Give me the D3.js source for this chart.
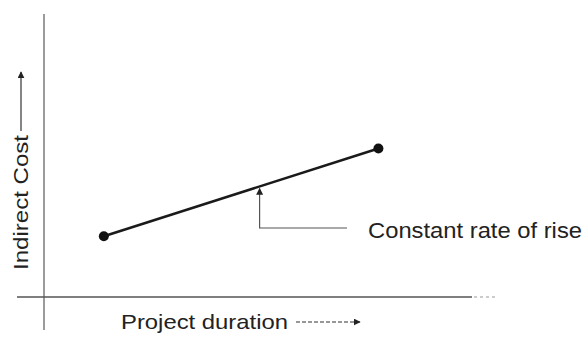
<!DOCTYPE html>
<html>
<head>
<meta charset="utf-8">
<script src="https://cdn.jsdelivr.net/npm/d3@7"></script>
<style>
  body { margin: 0; background: #fff; }
  text { font-family: "Liberation Sans", Arial, sans-serif; fill: #222; }
</style>
</head>
<body>
<script>
const width = 586, height = 337;

// indirect cost line: project duration vs cost (arbitrary units)
const durations = [1.36, 7.6];
const costs = [2.25, 5.5];
const annotationAt = 4.9;
const annotationLabel = 'Constant rate of rise';
const xLabel = 'Project duration';
const yLabel = 'Indirect Cost';

const x = d3.scaleLinear().domain([0, 10]).range([44, 484]);
const y = d3.scaleLinear().domain([0, 10]).range([297, 27]);

const svg = d3.select('body').append('svg').attr('width', width).attr('height', height);

const defs = svg.append('defs');
defs.append('marker')
    .attr('id', 'head')
    .attr('viewBox', '0 0 10 10')
    .attr('refX', 9).attr('refY', 5)
    .attr('markerWidth', 7).attr('markerHeight', 7)
    .attr('markerUnits', 'userSpaceOnUse')
    .attr('orient', 'auto')
    .append('path').attr('d', 'M0,0L10,5L0,10Z').attr('fill', '#222');

// axes
svg.append('line')
    .attr('x1', x(0)).attr('x2', x(0))
    .attr('y1', 14).attr('y2', 330)
    .attr('stroke', '#666').attr('stroke-width', 1.3);
svg.append('line')
    .attr('x1', 17).attr('x2', 472)
    .attr('y1', y(0)).attr('y2', y(0))
    .attr('stroke', '#555').attr('stroke-width', 1.4);
svg.append('line')
    .attr('x1', 474).attr('x2', 497)
    .attr('y1', y(0)).attr('y2', y(0))
    .attr('stroke', '#999').attr('stroke-width', 1.2)
    .attr('stroke-dasharray', '3,3');

// cost line
const pts = durations.map((d, i) => [d, costs[i]]);
svg.append('path')
    .datum(pts)
    .attr('d', d3.line().x(d => x(d[0])).y(d => y(d[1])))
    .attr('fill', 'none')
    .attr('stroke', '#1a1a1a')
    .attr('stroke-width', 2.6);

svg.selectAll('circle.pt')
    .data(pts)
    .enter().append('circle')
    .attr('class', 'pt')
    .attr('cx', d => x(d[0]))
    .attr('cy', d => y(d[1]))
    .attr('r', 5)
    .attr('fill', '#111');

// annotation
const slope = (costs[1] - costs[0]) / (durations[1] - durations[0]);
const yOnLine = costs[0] + slope * (annotationAt - durations[0]);
const ax = x(annotationAt);
svg.append('path')
    .attr('d', `M347,228H${ax}V${y(yOnLine) + 2}`)
    .attr('fill', 'none')
    .attr('stroke', '#555')
    .attr('stroke-width', 1.2)
    .attr('marker-end', 'url(#head)');
svg.append('text')
    .attr('x', 368).attr('y', 238)
    .attr('font-size', 22)
    .attr('textLength', 214)
    .attr('lengthAdjust', 'spacingAndGlyphs')
    .text(annotationLabel);

// x label
svg.append('text')
    .attr('x', 121).attr('y', 329)
    .attr('font-size', 21)
    .attr('textLength', 167)
    .attr('lengthAdjust', 'spacingAndGlyphs')
    .text(xLabel);
svg.append('line')
    .attr('x1', 296).attr('x2', 360)
    .attr('y1', 322).attr('y2', 322)
    .attr('stroke', '#333').attr('stroke-width', 1.2)
    .attr('stroke-dasharray', '4,2')
    .attr('marker-end', 'url(#head)');

// y label
svg.append('text')
    .attr('transform', 'translate(28,270) rotate(-90)')
    .attr('font-size', 21)
    .attr('textLength', 135)
    .attr('lengthAdjust', 'spacingAndGlyphs')
    .text(yLabel);
svg.append('line')
    .attr('x1', 21).attr('x2', 21)
    .attr('y1', 131).attr('y2', 72)
    .attr('stroke', '#333').attr('stroke-width', 1.2)
    .attr('marker-end', 'url(#head)');
</script>
</body>
</html>
